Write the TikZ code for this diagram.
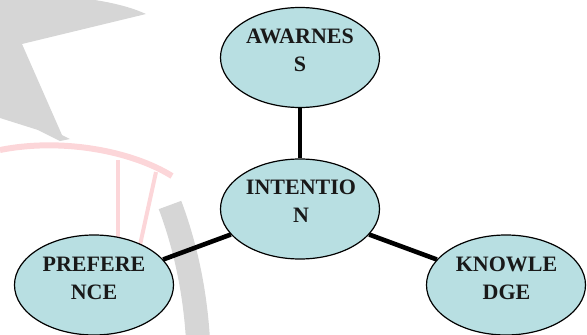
\documentclass[tikz,border=0pt]{standalone}
\usepackage{fontspec}
\setmainfont{Liberation Serif}
\usetikzlibrary{shapes.geometric}
\definecolor{bubble}{RGB}{184,223,226}
\definecolor{wmgray}{RGB}{214,214,214}
\definecolor{wmpink}{RGB}{252,214,217}
\tikzset{
  bubble/.style={ellipse, draw=black, line width=1.2pt, fill=bubble,
    minimum width=159pt, minimum height=100pt, inner sep=0pt},
  label/.style={align=center, inner sep=0pt, text=black!90,
    font=\fontsize{22}{28}\selectfont\bfseries},
  link/.style={line width=4.6pt, black}
}
\begin{document}
\begin{tikzpicture}[x=1pt, y=-1pt]
\useasboundingbox (0,0) rectangle (587,335);
% faint watermark in the background
\fill[wmgray] (0,0) -- (95,0) .. controls (120,4) and (135,9) .. (146,14)
  -- (22,44) -- (62,135) -- (70,139) -- (60,141) -- (38,130) -- (0,118) -- cycle;
\draw[wmpink, line width=6pt] (0,150) .. controls (60,138) and (130,150) .. (172,176);
\draw[wmpink, line width=4pt] (118,160) -- (118,250);
\draw[wmpink, line width=4pt] (156,172) -- (140,245);
\draw[wmgray, line width=24pt] (170,205) .. controls (185,245) and (195,290) .. (198,340);
% nodes
\node[bubble] (A) at (300,57.5) {};
\node[bubble] (I) at (300,209) {};
\node[bubble] (P) at (94,285) {};
\node[bubble] (K) at (506,285) {};
\node[label] (At) at (300,50) {AWARNES\\S};
\node[label] (It) at (301,201.5) {INTENTIO\\N};
\node[label] (Pt) at (94,278) {PREFERE\\NCE};
\node[label] (Kt) at (506.5,278) {KNOWLE\\DGE};
% connectors
\draw[link] (A) -- (I);
\draw[link] (P) -- (I);
\draw[link] (I) -- (K);
\end{tikzpicture}
\end{document}
